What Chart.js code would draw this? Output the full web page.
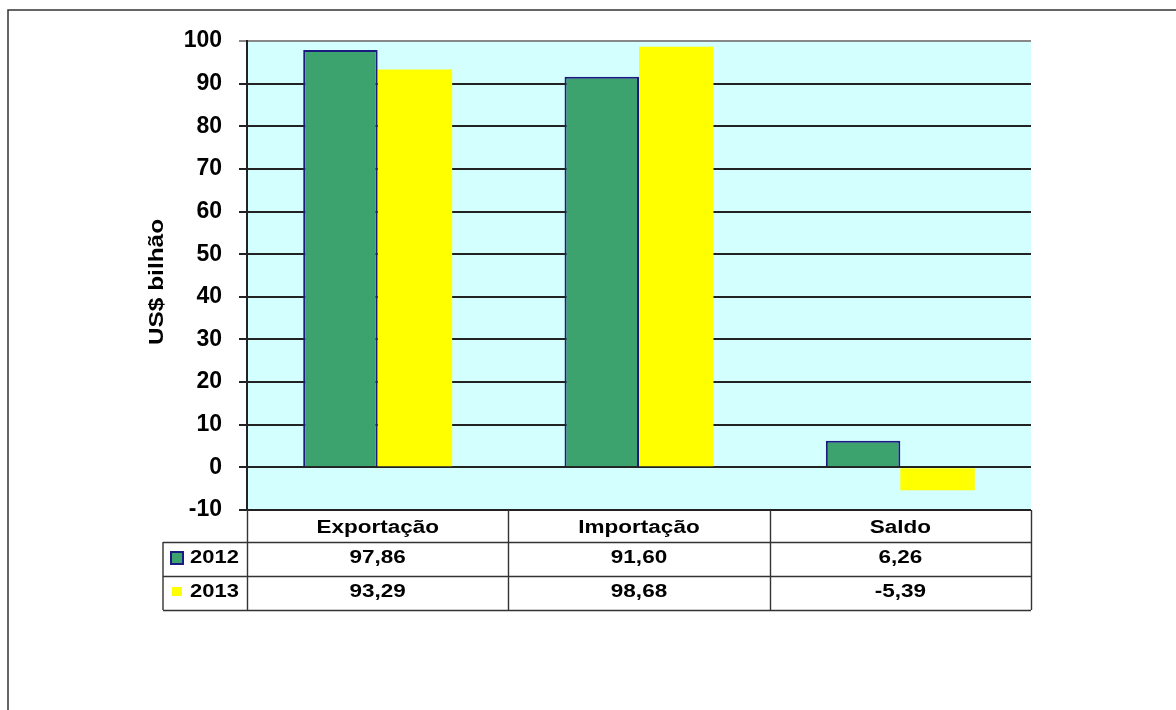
<!DOCTYPE html>
<html>
<head>
<meta charset="utf-8">
<script src="https://cdn.jsdelivr.net/npm/chart.js@4"></script>
<style>
  body { margin: 0; background: #fff; }
  #wrap { width: 1176px; height: 710px; }
</style>
</head>
<body>
<div id="wrap"><canvas id="balanca" width="1176" height="710"></canvas></div>
<script>
/* ---------------------------- data ---------------------------- */

const categorias = ['Exportação', 'Importação', 'Saldo']
const anos = ['2012', '2013']
const valores2012 = [97.86, 91.60, 6.26]
const valores2013 = [93.29, 98.68, -5.39]
const eixoY = { min: -10, max: 100, passo: 10 }
const tituloY = 'US$ bilhão'

const verde = 'rgb(60,162,110)'
const amarelo = '#ffff00'
const fundoPlot = 'rgb(212,255,255)'

/* ---------------------------- plugins ---------------------------- */

// frame of the whole picture + cyan plot background
const fundo = {
    id: 'fundo',
    beforeDraw(chart) {
        const ctx = chart.ctx
        const a = chart.chartArea
        ctx.save()
        ctx.fillStyle = '#fff'
        ctx.fillRect(0, 0, chart.width, chart.height)
        ctx.strokeStyle = '#333'
        ctx.lineWidth = 1.5
        ctx.beginPath()
        ctx.moveTo(8, chart.height)
        ctx.lineTo(8, 10)
        ctx.lineTo(chart.width, 10)
        ctx.stroke()
        ctx.fillStyle = fundoPlot
        ctx.fillRect(a.left, a.top, a.right - a.left, a.bottom - a.top)
        ctx.restore()
    }
}

const textoLargo = (ctx, txt, x, y, esticar) => {
    ctx.save()
    ctx.translate(x, y)
    ctx.scale(esticar, 1)
    ctx.fillText(txt, 0, 0)
    ctx.restore()
}

// y title + data table under the plot
const tabela = {
    id: 'tabela',
    afterDraw(chart) {
        const ctx = chart.ctx
        const a = chart.chartArea
        const xs = chart.scales.x
        const larg = (a.right - a.left) / categorias.length
        const esq = 163
        const y0 = a.bottom, y1 = 542, y2 = 576, y3 = 610

        ctx.save()
        // y title
        ctx.fillStyle = '#000'
        ctx.font = 'bold 20px Arial, "Liberation Sans"'
        ctx.textAlign = 'center'
        ctx.textBaseline = 'middle'
        ctx.save()
        ctx.translate(157, 282)
        ctx.rotate(-Math.PI / 2)
        ctx.scale(1.22, 1)
        ctx.fillText(tituloY, 0, 0)
        ctx.restore()

        // grid of the table
        ctx.strokeStyle = '#333'
        ctx.lineWidth = 1.4
        ctx.beginPath()
        for (let i = 0; i <= categorias.length; i++) {
            const x = Math.round(a.left + i * larg) + 0.5
            ctx.moveTo(x, y0); ctx.lineTo(x, y3)
        }
        ctx.moveTo(esq, y1); ctx.lineTo(esq, y3)
        ;[y1, y2, y3].forEach(y => { ctx.moveTo(esq, y + 0.5); ctx.lineTo(a.right, y + 0.5) })
        ctx.stroke()

        // header
        ctx.font = 'bold 18px Arial, "Liberation Sans"'
        categorias.forEach((c, i) => {
            textoLargo(ctx, c, xs.getPixelForValue(i), 528, 1.25)
        })
        // rows
        ctx.font = 'bold 18px Arial, "Liberation Sans"'
        const fmt = v => v.toFixed(2).replace('.', ',')
        const linhas = [valores2012, valores2013]
        const ys = [558, 592]
        linhas.forEach((serie, r) => {
            serie.forEach((v, i) => {
                textoLargo(ctx, fmt(v), xs.getPixelForValue(i), ys[r], 1.25)
            })
        })
        // legend keys
        ctx.fillStyle = verde
        ctx.fillRect(171, 552, 12, 12)
        ctx.strokeStyle = '#1a1a80'
        ctx.lineWidth = 2
        ctx.strokeRect(171, 552, 12, 12)
        ctx.fillStyle = amarelo
        ctx.fillRect(172, 587, 10, 9)
        ctx.fillStyle = '#000'
        ctx.textAlign = 'left'
        anos.forEach((ano, r) => {
            ctx.save()
            ctx.translate(190, ys[r])
            ctx.scale(1.22, 1)
            ctx.fillText(ano, 0, 0)
            ctx.restore()
        })
        ctx.restore()
    }
}

/* ---------------------------- chart ---------------------------- */

const config = {
    type: 'bar',
    data: {
        labels: categorias,
        datasets: [{
            label: anos[0],
            data: valores2012,
            backgroundColor: verde,
            borderColor: '#1a1a80',
            borderWidth: 2
        }, {
            label: anos[1],
            data: valores2013,
            backgroundColor: amarelo,
            borderColor: amarelo,
            borderWidth: 0
        }]
    },
    options: {
        responsive: false,
        animation: false,
        layout: { padding: { left: 0, top: 41, right: 145, bottom: 200 } },
        datasets: { bar: { categoryPercentage: 0.57, barPercentage: 1 } },
        plugins: {
            legend: { display: false },
            tooltip: { enabled: false }
        },
        scales: {
            x: { display: false },
            y: {
                min: eixoY.min,
                max: eixoY.max,
                afterFit(scale) { scale.width = 247 },
                ticks: {
                    stepSize: eixoY.passo,
                    padding: 17,
                    color: '#000',
                    font: { family: 'Arial, "Liberation Sans"', size: 23, weight: 'bold' }
                },
                grid: {
                    color: ctx => ctx.tick && ctx.tick.value === eixoY.max ? '#888' : '#222',
                    lineWidth: 2,
                    tickLength: 8,
                    drawOnChartArea: true
                },
                border: { display: true, color: '#222', width: 2 }
            }
        }
    },
    plugins: [fundo, tabela]
}

const balanca = new Chart(document.getElementById('balanca'), config)
</script>
</body>
</html>
